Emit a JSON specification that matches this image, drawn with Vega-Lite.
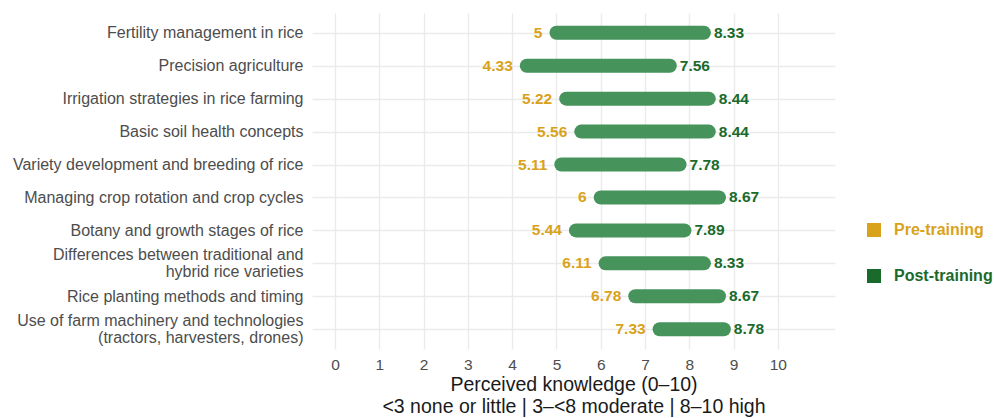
{
  "$schema": "https://vega.github.io/schema/vega-lite/v6.json",
  "width": 523,
  "height": 336,
  "autosize": {"type": "none"},
  "padding": {"left": 312, "top": 13, "right": 159, "bottom": 69},
  "background": "white",
  "config": {
    "font": "Liberation Sans",
    "view": {"stroke": null},
    "axis": {"gridColor": "#ebebeb", "gridWidth": 1.4, "domain": false, "ticks": false}
  },
  "data": {
    "values": [
      {"topic": "Fertility management in rice", "pre": 5, "post": 8.33},
      {"topic": "Precision agriculture", "pre": 4.33, "post": 7.56},
      {"topic": "Irrigation strategies in rice farming", "pre": 5.22, "post": 8.44},
      {"topic": "Basic soil health concepts", "pre": 5.56, "post": 8.44},
      {"topic": "Variety development and breeding of rice", "pre": 5.11, "post": 7.78},
      {"topic": "Managing crop rotation and crop cycles", "pre": 6, "post": 8.67},
      {"topic": "Botany and growth stages of rice", "pre": 5.44, "post": 7.89},
      {"topic": "Differences between traditional and\nhybrid rice varieties", "pre": 6.11, "post": 8.33},
      {"topic": "Rice planting methods and timing", "pre": 6.78, "post": 8.67},
      {"topic": "Use of farm machinery and technologies\n(tractors, harvesters, drones)", "pre": 7.33, "post": 8.78}
    ]
  },
  "encoding": {
    "y": {
      "field": "topic",
      "type": "nominal",
      "sort": null,
      "scale": {"type": "point", "padding": 0.6},
      "axis": {
        "title": null,
        "grid": true,
        "labelExpr": "split(datum.label, '\\n')",
        "labelFontSize": 16,
        "labelColor": "#4d4d4d",
        "labelPadding": 9,
        "labelLineHeight": 17,
        "labelLimit": 400,
        "labelOffset": {
          "condition": {"test": "indexof(datum.value, '\\n') >= 0", "value": -8.5},
          "value": 0
        }
      }
    }
  },
  "layer": [
    {
      "mark": {"type": "rule", "strokeWidth": 14, "strokeCap": "round", "color": "#46935b"},
      "encoding": {
        "x": {
          "field": "pre",
          "type": "quantitative",
          "scale": {"domain": [-0.52, 11.29], "nice": false, "zero": false},
          "axis": {
            "values": [0, 1, 2, 3, 4, 5, 6, 7, 8, 9, 10],
            "title": ["Perceived knowledge (0–10)", "<3 none or little | 3–<8 moderate | 8–10 high"],
            "titleFontSize": 19.5,
            "titleFontWeight": "normal",
            "titleColor": "#1a1a1a",
            "titleLineHeight": 22,
            "titlePadding": 3,
            "labelFontSize": 15.5,
            "labelColor": "#4d4d4d",
            "labelPadding": 8
          }
        },
        "x2": {"field": "post"}
      }
    },
    {
      "mark": {"type": "text", "align": "right", "baseline": "middle", "dx": -14, "fontSize": 15.5, "fontWeight": "bold"},
      "encoding": {
        "x": {"field": "pre", "type": "quantitative"},
        "text": {"field": "pre", "type": "quantitative"},
        "color": {
          "datum": "Pre-training",
          "type": "nominal",
          "scale": {"domain": ["Pre-training", "Post-training"], "range": ["#D9A21B", "#1a6a2c"]},
          "legend": {
            "title": null,
            "orient": "none",
            "legendX": 554,
            "legendY": 209,
            "padding": 0,
            "symbolType": "square",
            "symbolSize": 196,
            "symbolOpacity": 1,
            "symbolStrokeWidth": 0,
            "labelFontSize": 16,
            "labelFontWeight": "bold",
            "labelOffset": 12,
            "rowPadding": 30,
            "encode": {
              "labels": {
                "update": {
                  "fill": {"signal": "datum.value === 'Pre-training' ? '#D9A21B' : '#1a6a2c'"}
                }
              }
            }
          }
        }
      }
    },
    {
      "mark": {"type": "text", "align": "left", "baseline": "middle", "dx": 10, "fontSize": 15.5, "fontWeight": "bold"},
      "encoding": {
        "x": {"field": "post", "type": "quantitative"},
        "text": {"field": "post", "type": "quantitative"},
        "color": {"datum": "Post-training", "type": "nominal"}
      }
    }
  ],
  "resolve": {"scale": {"color": "shared"}}
}
